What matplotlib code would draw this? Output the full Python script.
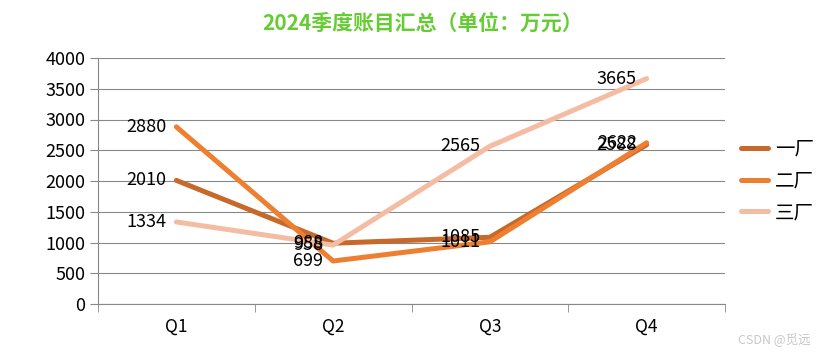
import matplotlib
matplotlib.use("Agg")
import matplotlib.pyplot as plt
from matplotlib.ticker import FixedLocator, MultipleLocator

plt.rcParams["font.family"] = ["Noto Sans CJK SC", "DejaVu Sans"]

quarters = ["Q1", "Q2", "Q3", "Q4"]
factory_names = ["一厂", "二厂", "三厂"]
plant1 = [2010, 988, 1085, 2588]
plant2 = [2880, 699, 1011, 2622]
plant3 = [1334, 958, 2565, 3665]
series = [plant1, plant2, plant3]
colors = ["#C6692B", "#EE7F30", "#F4BCA3"]

fig = plt.figure(figsize=(8.36, 3.6), dpi=100)
ax = fig.add_axes([98 / 836, 56 / 360, 627 / 836, 246 / 360])

x = list(range(len(quarters)))
for name, vals, c in zip(factory_names, series, colors):
    ax.plot(x, vals, color=c, lw=3.6, solid_capstyle="round", label=name)
    # labels sit left of each point, like the original; Q2-Q4 ones overlap there too
    for xi, v in zip(x, vals):
        ax.annotate(str(v), (xi, v), xytext=(-7, 0), textcoords="offset points",
                    ha="right", va="center", fontsize=13, color="black")

ax.set_xlim(-0.5, len(quarters) - 0.5)
ax.set_ylim(0, 4000)
ax.yaxis.set_major_locator(MultipleLocator(500))
ax.set_xticks(x)
ax.set_xticklabels(quarters, fontsize=12.5)
ax.xaxis.set_minor_locator(FixedLocator([i - 0.5 for i in range(len(quarters) + 1)]))
ax.tick_params(axis="x", which="major", length=0, pad=10)
ax.tick_params(axis="x", which="minor", length=6, color="#888888", direction="out")
ax.tick_params(axis="y", length=6, color="#888888", labelsize=13, pad=3)

ax.grid(axis="y", color="#888888", lw=0.8)
ax.set_axisbelow(True)
for s in ["top", "right"]:
    ax.spines[s].set_visible(False)
for s in ["left", "bottom"]:
    ax.spines[s].set_color("#888888")

ax.legend(loc="center left", bbox_to_anchor=(0.997, 0.5), frameon=False,
          fontsize=14, handlelength=1.4, handletextpad=0.35, labelspacing=0.55)

fig.text(0.505, 0.935, "2024季度账目汇总（单位：万元）", ha="center", va="center",
         fontsize=15, fontweight="bold", color="#66CC33")
fig.text(0.97, 0.055, "CSDN @觅远", ha="right", va="center", fontsize=9,
         color="#C8C8C8")

fig.savefig("out.png", dpi=100)
